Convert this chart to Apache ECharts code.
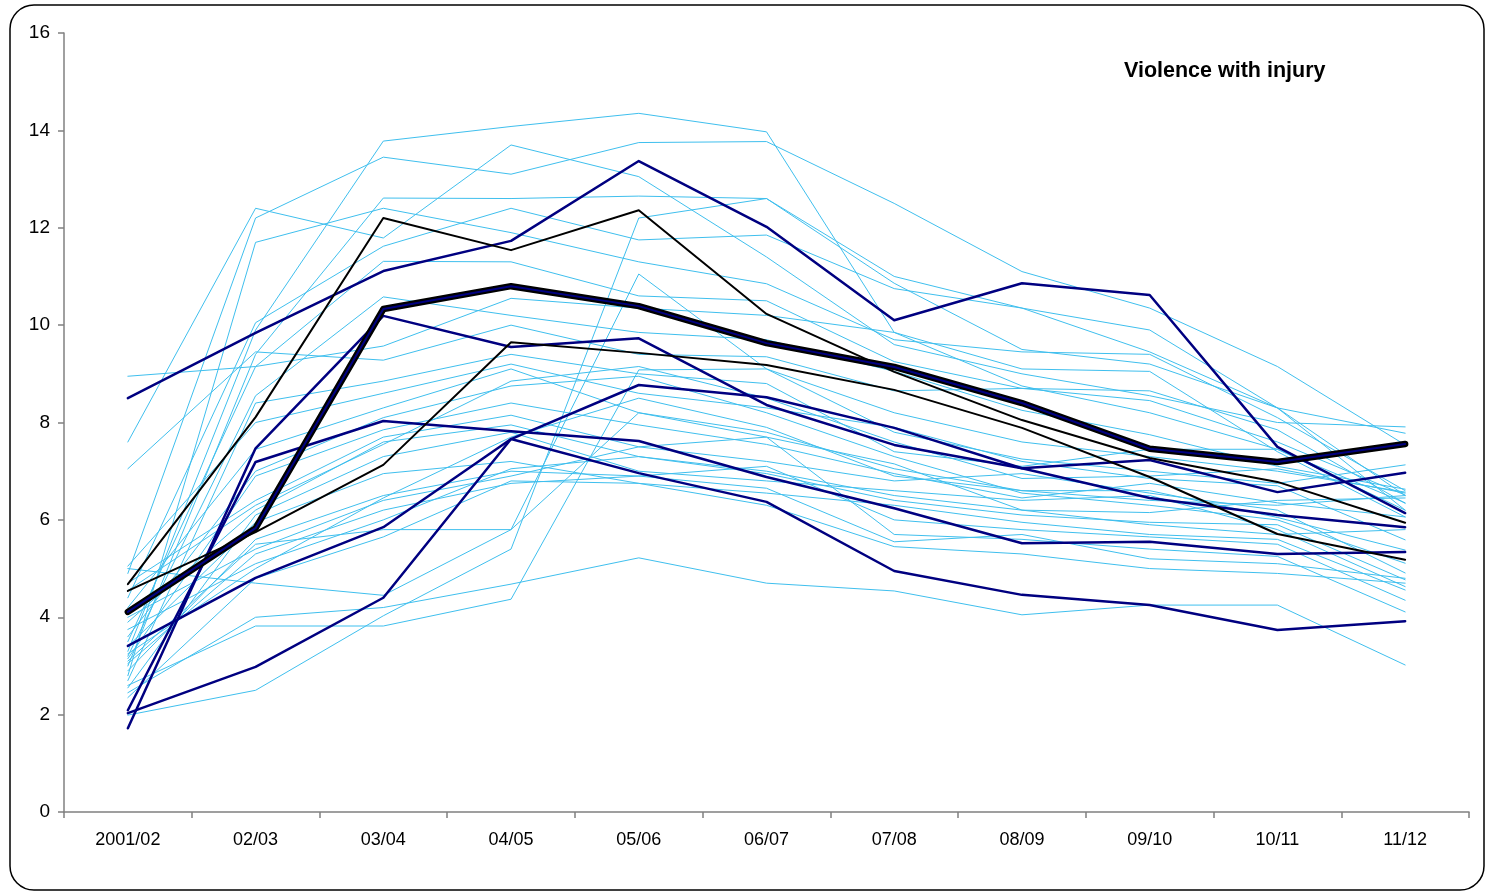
<!DOCTYPE html>
<html>
<head>
<meta charset="utf-8">
<script src="https://cdn.jsdelivr.net/npm/echarts@6/dist/echarts.min.js"></script>
<style>
  html, body { margin: 0; padding: 0; background: #ffffff; }
  #chart { width: 1487px; height: 893px; }
</style>
</head>
<body>
<div id="chart"></div>
<script>
// Financial years on the category axis
const years = ['2001/02', '02/03', '03/04', '04/05', '05/06', '06/07', '07/08', '08/09', '09/10', '10/11', '11/12'];
const yTicks = [0, 2, 4, 6, 8, 10, 12, 14, 16];
const chartTitle = 'Violence with injury';

// Individual areas (thin light-blue lines)
const areaLines = [
  [3.3, 9.9, 13.78, 14.08, 14.35, 13.97, 9.85, 8.75, 8.2, 7.45, 6.35],
  [4.9, 12.2, 13.45, 13.1, 13.75, 13.77, 12.5, 11.1, 10.35, 9.15, 7.54],
  [7.6, 12.4, 11.79, 13.7, 13.05, 11.4, 9.6, 9.0, 8.55, 8.0, 7.91],
  [3.0, 9.4, 12.61, 12.6, 12.65, 12.6, 11.0, 10.35, 9.9, 8.3, 7.78],
  [2.8, 11.7, 12.4, 11.9, 11.3, 10.85, 9.7, 9.45, 9.4, 8.1, 6.6],
  [4.4, 10.05, 11.62, 12.4, 11.75, 11.85, 10.75, 10.35, 9.45, 8.3, 6.5],
  [3.5, 9.15, 11.31, 11.3, 10.6, 10.5, 9.25, 8.7, 8.65, 7.85, 6.34],
  [1.99, 2.5, 4.03, 5.4, 12.2, 12.6, 10.86, 9.5, 9.2, 8.3, 6.2],
  [8.95, 9.15, 9.57, 10.55, 10.35, 10.2, 9.85, 9.1, 9.05, 7.4, 6.06],
  [3.2, 8.55, 10.58, 10.2, 9.85, 9.7, 9.05, 8.25, 7.75, 7.1, 6.63],
  [7.05, 9.45, 9.28, 10.0, 9.4, 9.35, 8.65, 8.7, 8.45, 7.6, 6.51],
  [2.6, 3.82, 3.82, 4.37, 9.08, 9.1, 8.2, 7.6, 7.3, 7.0, 6.57],
  [3.1, 5.5, 5.8, 5.8, 11.05, 9.1, 7.8, 7.25, 7.0, 6.75, 7.13],
  [2.7, 8.4, 8.85, 9.4, 9.0, 8.8, 7.4, 7.1, 7.45, 7.45, 6.2],
  [5.05, 8.0, 8.6, 9.2, 8.6, 8.3, 7.9, 7.2, 6.85, 6.7, 5.59],
  [4.2, 7.45, 8.3, 9.1, 8.2, 7.8, 7.05, 6.6, 6.6, 6.05, 5.38],
  [3.6, 7.0, 8.1, 8.75, 8.95, 8.2, 7.3, 6.55, 6.3, 6.0, 5.11],
  [3.15, 6.9, 7.85, 8.4, 7.95, 7.55, 6.95, 6.45, 6.75, 6.35, 6.06],
  [4.7, 6.4, 7.7, 8.15, 7.5, 7.2, 6.8, 6.95, 6.55, 6.2, 4.91],
  [3.9, 6.2, 7.6, 7.95, 7.3, 6.95, 6.4, 6.1, 5.95, 5.9, 4.77],
  [2.55, 6.1, 7.3, 7.8, 7.0, 6.8, 6.6, 6.4, 6.5, 5.8, 4.63],
  [3.4, 5.95, 6.95, 7.2, 6.75, 6.55, 6.3, 5.95, 5.7, 5.6, 4.56],
  [2.9, 5.6, 6.5, 7.0, 6.9, 7.1, 6.0, 5.8, 5.65, 5.5, 4.35],
  [4.0, 5.4, 6.4, 6.9, 7.5, 7.7, 5.7, 5.6, 5.4, 5.25, 4.11],
  [3.05, 5.3, 6.2, 6.75, 6.9, 6.65, 5.55, 5.7, 5.2, 5.1, 4.8],
  [2.45, 4.0, 4.2, 4.68, 5.22, 4.70, 4.54, 4.05, 4.25, 4.25, 3.02],
  [2.35, 4.8, 5.65, 6.8, 6.75, 6.3, 5.45, 5.3, 5.0, 4.9, 4.7],
  [5.0, 4.7, 4.45, 5.8, 8.2, 7.7, 7.15, 6.2, 6.15, 6.4, 6.45],
  [3.75, 5.1, 6.0, 7.05, 7.3, 7.0, 6.5, 6.2, 5.9, 5.7, 5.8],
  [3.25, 5.0, 6.45, 7.7, 8.5, 7.9, 6.9, 6.6, 6.4, 6.3, 6.5],
  [4.55, 6.3, 7.55, 8.85, 9.15, 8.5, 7.6, 6.85, 6.9, 7.05, 6.55]
];

// Highlighted areas (dark navy lines)
const navyLines = [
  [8.5, 9.84, 11.11, 11.73, 13.37, 12.02, 10.1, 10.86, 10.62, 7.5, 6.14],
  [1.72, 7.47, 10.19, 9.55, 9.73, 8.36, 7.54, 7.06, 6.45, 6.1, 5.85],
  [2.09, 7.19, 8.03, 7.82, 7.62, 6.88, 6.24, 5.52, 5.55, 5.3, 5.34],
  [3.41, 4.81, 5.85, 7.66, 8.77, 8.52, 7.89, 7.06, 7.23, 6.57, 6.97],
  [2.03, 2.98, 4.4, 7.66, 6.96, 6.37, 4.95, 4.46, 4.25, 3.74, 3.92]
];

// Comparison groups (black lines)
const blackLines = [
  [4.68, 8.11, 12.2, 11.54, 12.36, 10.23, 9.04, 8.05, 7.27, 6.78, 5.94],
  [4.54, 5.75, 7.13, 9.65, 9.43, 9.18, 8.67, 7.89, 6.88, 5.71, 5.18]
];

// Overall average (heavy line)
const averageLine = [4.11, 5.83, 10.33, 10.8, 10.39, 9.63, 9.14, 8.4, 7.46, 7.19, 7.56];

const FONT = '"Liberation Sans", Arial, sans-serif';

function lineSeries(data, color, width, z) {
  return {
    type: 'line',
    data: data,
    symbol: 'none',
    smooth: false,
    silent: true,
    z: z,
    lineStyle: { color: color, width: width, cap: 'round', join: 'round' }
  };
}

const series = [];
areaLines.forEach(d => series.push(lineSeries(d, '#3fbfee', 1, 2)));
navyLines.forEach(d => series.push(lineSeries(d, '#000080', 2.5, 3)));
blackLines.forEach(d => series.push(lineSeries(d, '#000000', 2, 4)));
series.push(lineSeries(averageLine, '#000000', 6.5, 5));
series.push(lineSeries(averageLine, '#000080', 2, 6));

const chart = echarts.init(document.getElementById('chart'), null, { renderer: 'canvas' });
chart.setOption({
  animation: false,
  backgroundColor: '#ffffff',
  title: {
    text: chartTitle,
    left: 1119,
    top: 55,
    textStyle: { fontFamily: FONT, fontSize: 21.5, fontWeight: 'bold', color: '#000000' }
  },
  grid: { left: 64, right: 18, top: 33, bottom: 81, containLabel: false },
  xAxis: {
    type: 'category',
    data: years,
    boundaryGap: true,
    axisLine: { lineStyle: { color: '#808080', width: 1.5 } },
    axisTick: { show: true, length: 6, interval: 0, lineStyle: { color: '#808080', width: 1.5 } },
    axisLabel: { interval: 0, margin: 19, fontFamily: FONT, fontSize: 18, color: '#000000' },
    splitLine: { show: false }
  },
  yAxis: {
    type: 'value',
    min: yTicks[0],
    max: yTicks[yTicks.length - 1],
    interval: yTicks[1] - yTicks[0],
    axisLine: { show: true, lineStyle: { color: '#808080', width: 1.5 } },
    axisTick: { show: true, length: 6, lineStyle: { color: '#808080', width: 1.5 } },
    axisLabel: { margin: 14, fontFamily: FONT, fontSize: 19, color: '#000000' },
    splitLine: { show: false }
  },
  graphic: [{
    type: 'rect',
    silent: true,
    z: 0,
    shape: { x: 10, y: 5, width: 1474, height: 885, r: 24 },
    style: { fill: 'none', stroke: '#000000', lineWidth: 1.5 }
  }],
  series: series
});
</script>
</body>
</html>
